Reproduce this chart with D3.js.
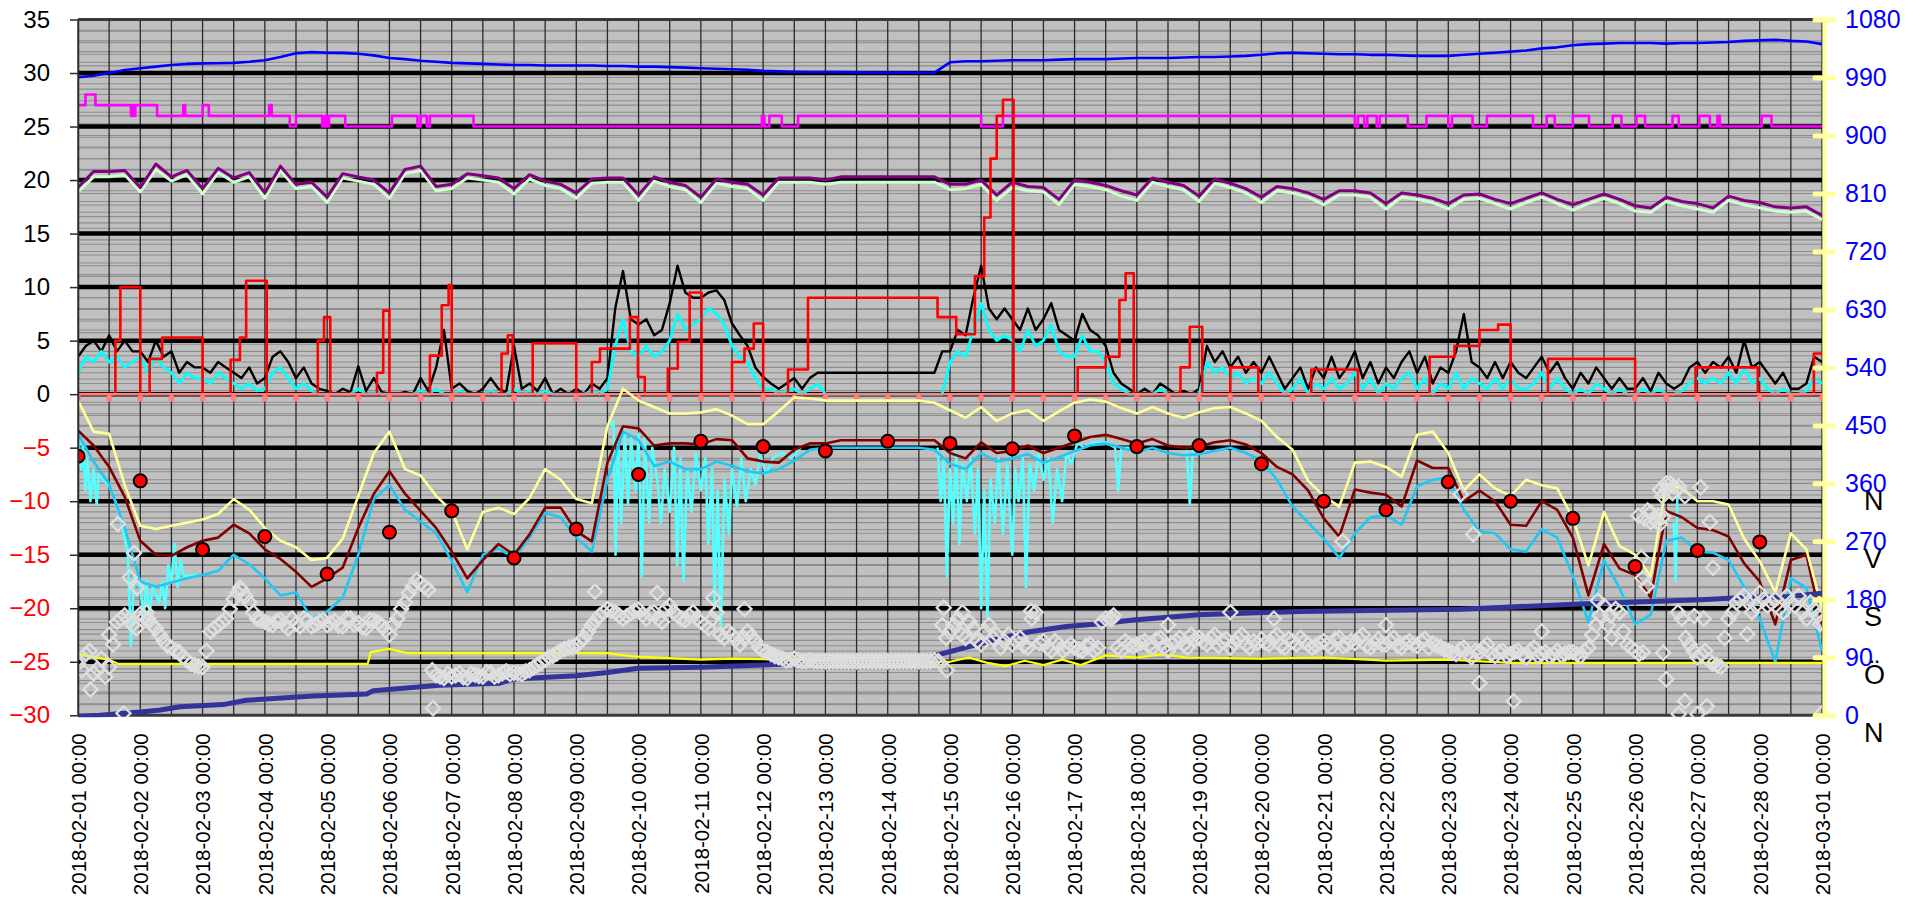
<!DOCTYPE html>
<html>
<head>
<meta charset="utf-8">
<script src="https://cdnjs.cloudflare.com/ajax/libs/d3/7.8.5/d3.min.js"></script>
<style>
  body { margin: 0; background: #fff; }
  svg { display: block; font-family: "Liberation Sans", Arial, sans-serif; }
</style>
</head>
<body>
<div id="chart"></div>
<script>
// ---- data ----
// time is given in days after 2018-02-01 00:00
var startDay = Date.UTC(2018, 1, 1);
var nDays = 28;

// 6-hourly series (00, 06, 12, 18 each day), left axis units
var pressure = [29.6, 29.75, 30.0, 30.28, 30.44, 30.6, 30.75, 30.85, 30.9, 30.92, 30.95, 31.05,
  31.2, 31.5, 31.85, 31.95, 31.9, 31.88, 31.8, 31.65, 31.4, 31.3, 31.15, 31.05,
  30.95, 30.9, 30.85, 30.8, 30.75, 30.75, 30.7, 30.7, 30.7, 30.7, 30.65, 30.65,
  30.6, 30.6, 30.55, 30.5, 30.45, 30.4, 30.35, 30.3, 30.2, 30.15, 30.12, 30.1,
  30.1, 30.08, 30.06, 30.05, 30.05, 30.04, 30.03, 30.03, 31.0, 31.1, 31.1, 31.15,
  31.2, 31.2, 31.2, 31.25, 31.3, 31.3, 31.3, 31.35, 31.4, 31.4, 31.4, 31.45,
  31.5, 31.5, 31.55, 31.6, 31.7, 31.85, 31.9, 31.85, 31.8, 31.75, 31.75, 31.7,
  31.7, 31.65, 31.6, 31.6, 31.6, 31.7, 31.8, 31.9, 32.0, 32.1, 32.3, 32.4,
  32.6, 32.7, 32.75, 32.8, 32.8, 32.8, 32.75, 32.8, 32.8, 32.85, 32.9, 33.0,
  33.05, 33.1, 33.0, 32.95, 32.7];

var purple = [19.3, 20.8, 20.8, 20.9, 19.3, 21.5, 20.3, 20.9, 19.2, 21.1, 20.2, 20.7,
  18.8, 21.3, 19.6, 19.8, 18.4, 20.6, 20.3, 20.0, 18.8, 21.0, 21.3, 19.4,
  19.6, 20.6, 20.4, 20.2, 19.2, 20.5, 19.9, 19.6, 18.8, 20.1, 20.2, 20.2,
  18.6, 20.3, 19.8, 19.5, 18.4, 20.1, 19.8, 19.6, 18.6, 20.2, 20.2, 20.2,
  20.0, 20.3, 20.3, 20.3, 20.3, 20.3, 20.3, 20.3, 19.6, 19.6, 20.0, 18.6,
  19.8, 19.4, 19.3, 18.2, 20.0, 19.8, 19.5, 19.0, 18.6, 20.2, 19.8, 19.5,
  18.5, 20.1, 19.7, 19.2, 18.4, 19.4, 19.2, 18.8, 18.2, 19.0, 19.0, 18.8,
  17.8, 18.8, 18.6, 18.3, 17.8, 18.6, 18.7, 18.2, 17.8, 18.3, 18.8, 18.2,
  17.7, 18.2, 18.7, 18.2, 17.6, 17.4, 18.4, 18.0, 17.8, 17.4, 18.5, 18.1,
  17.9, 17.5, 17.4, 17.5, 16.7];

var paleGreen = [18.9, 20.3, 20.3, 20.5, 18.9, 21.0, 19.9, 20.5, 18.7, 20.7, 19.8, 20.3,
  18.3, 20.9, 19.2, 19.4, 17.9, 20.2, 19.9, 19.6, 18.3, 20.6, 20.9, 19.0,
  19.2, 20.2, 20.0, 19.8, 18.7, 20.1, 19.5, 19.2, 18.3, 19.7, 19.8, 19.8,
  18.1, 19.9, 19.4, 19.1, 17.9, 19.7, 19.4, 19.2, 18.1, 19.8, 19.8, 19.8,
  19.6, 19.8, 19.8, 19.8, 19.8, 19.8, 19.8, 19.8, 19.1, 19.2, 19.6, 18.1,
  19.3, 19.0, 18.9, 17.7, 19.6, 19.4, 19.1, 18.5, 18.1, 19.8, 19.4, 19.1,
  18.0, 19.7, 19.3, 18.8, 17.9, 19.0, 18.8, 18.4, 17.7, 18.6, 18.6, 18.4,
  17.3, 18.4, 18.2, 17.9, 17.3, 18.2, 18.3, 17.8, 17.3, 17.9, 18.4, 17.8,
  17.2, 17.8, 18.3, 17.8, 17.1, 17.0, 18.0, 17.6, 17.3, 17.0, 18.1, 17.7,
  17.4, 17.1, 17.0, 17.1, 16.3];

var tempHigh = [-0.6, -3.5, -3.7, -8.5, -12.3, -12.6, -12.3, -12.0, -11.7, -11.2, -9.8, -10.8,
  -12.5, -13.7, -14.3, -15.5, -15.3, -13.5, -9.5, -5.5, -3.5, -7.0, -7.6, -9.5,
  -10.9, -14.5, -11.0, -10.6, -11.2, -9.7, -7.0, -8.0, -9.8, -10.2, -3.0, 0.5,
  -0.6, -1.2, -1.8, -1.8, -1.7, -1.4, -2.0, -2.8, -2.8, -1.6, -0.3, -0.4,
  -0.6, -0.6, -0.6, -0.6, -0.6, -0.6, -0.6, -0.8, -1.5, -2.2, -1.2, -2.5,
  -1.8, -1.5, -2.5, -1.6, -0.8, -0.5, -0.7, -1.3, -1.8, -1.2, -1.8, -2.2,
  -1.7, -1.3, -1.2, -1.8, -2.5, -4.0, -5.2, -8.1, -9.5, -10.5, -6.4, -6.3,
  -6.8, -7.7, -3.8, -3.5, -5.5, -9.0, -7.5, -8.8, -9.5, -8.0, -8.5, -8.8,
  -11.6, -16.0, -11.0, -14.2, -15.0, -17.0, -8.4, -8.8, -10.0, -10.0, -10.3, -13.5,
  -15.6, -18.5, -13.0, -14.5, -20.0];

var tempMean = [-3.4, -4.8, -6.8, -9.6, -13.7, -15.0, -15.1, -14.3, -13.7, -13.4, -12.2, -13.0,
  -14.5, -15.4, -16.6, -18.0, -17.2, -16.2, -12.5, -9.3, -7.2, -9.3, -10.9, -12.5,
  -14.7, -17.2, -15.5, -14.0, -15.0, -13.1, -10.6, -10.6, -12.8, -13.75, -6.4, -3.0,
  -3.2, -4.8, -4.6, -4.6, -4.7, -4.2, -4.3, -6.0, -6.3, -6.4, -5.2, -4.6,
  -4.6, -4.3, -4.3, -4.3, -4.3, -4.3, -4.3, -4.3, -5.5, -6.0, -4.5, -5.5,
  -5.3, -4.8, -5.5, -5.0, -4.5, -4.0, -3.8, -4.2, -4.6, -4.2, -4.8, -5.0,
  -4.9, -4.5, -4.3, -4.7, -5.5, -6.8, -7.5, -9.0, -11.6, -13.3, -8.9, -9.2,
  -9.4, -10.5, -6.2, -6.9, -6.9, -10.0, -9.0, -10.0, -12.2, -12.3, -10.0, -10.8,
  -13.4, -18.8, -14.0, -16.3, -16.9, -19.0, -10.9, -11.5, -12.5, -12.7, -13.3, -15.8,
  -17.5, -21.5, -15.5, -15.0, -21.5];

var tempLow = [-3.7, -6.3, -8.4, -12.5, -17.5, -18.0, -17.6, -17.2, -16.9, -16.5, -15.0, -15.9,
  -17.2, -18.8, -18.5, -21.0, -20.3, -19.0, -15.0, -9.8, -8.5, -10.8, -11.9, -13.0,
  -15.6, -18.5, -15.0, -14.4, -15.3, -13.4, -11.1, -11.5, -13.4, -14.7, -8.0, -3.5,
  -4.3, -6.7, -6.3, -7.0, -7.0, -6.3, -6.7, -7.2, -7.4, -7.0, -6.2, -5.2,
  -5.0, -5.0, -5.0, -5.0, -5.0, -5.0, -5.0, -5.2, -6.5, -7.0, -5.5, -6.3,
  -6.0, -5.6, -6.4, -5.9, -5.3, -4.8, -4.6, -5.0, -5.4, -5.0, -5.5, -5.7,
  -5.6, -5.3, -5.0, -5.5, -6.2, -8.0, -10.5, -12.0, -13.5, -15.3, -13.0, -11.5,
  -11.3, -12.2, -8.6, -8.0, -7.8, -10.8, -12.8, -13.0, -14.5, -14.7, -12.6, -13.4,
  -17.0, -21.3, -15.5, -18.1, -21.5, -20.6, -13.7, -13.4, -14.7, -14.8, -15.5, -18.0,
  -21.0, -25.0, -17.2, -18.1, -24.0];

// 3-hourly series (8 per day)
var gust = [3.5, 4.5, 5, 4, 5.5, 4, 5, 4,  4, 3, 5, 3.5, 4, 2, 3, 2.5,
  2.5, 2, 3, 2.5, 2, 1.5, 2.5, 1,  1.5, 3.5, 4, 3, 1.5, 2.5, 1, 0.5,
  0.3, 0, 0.5, 0.2, 2.6, 0.3, 1.5, 0.2,  0, 0, 0.2, 0, 1.5, 0.3, 2.5, 6,
  0.5, 1, 0.3, 0, 0.5, 1.5, 0.5, 0.2,  4.5, 0.5, 1, 0.3, 1.5, 0, 0.5, 0,
  0.5, 0, 1, 0.5, 1.5, 8, 11.5, 7,  6.5, 7, 5.5, 6, 8.5, 12, 9.5, 9,
  9, 9.5, 9.7, 8.8, 6.6, 5.5, 4.5, 2.5,  1.6, 1, 0.5, 1, 1.5, 0.5, 1.5, 2,
  2, 2, 2, 2, 2, 2, 2, 2,  2, 2, 2, 2, 2, 2, 2, 4,
  4, 6, 5.5, 9, 12, 8, 7, 8,  7, 6, 8, 6, 7, 8.5, 6, 5.5,
  5, 7.5, 6, 5.5, 4.5, 2, 1, 0.5,  0, 0.5, 0, 1, 0.5, 0, 0.3, 0,
  0.5, 4.5, 3, 4, 2.5, 3.5, 2, 3,  2, 3.5, 2, 0.5, 1.5, 2.5, 0.5, 2.5,
  1.5, 3.5, 1.5, 2.5, 4, 1.5, 3, 1,  2.5, 1.5, 3, 4, 2, 3.5, 1, 2.5,
  2, 4, 7.5, 3, 2.5, 1.5, 3, 1.5,  3, 2, 1.5, 2.5, 3.5, 2, 3, 1.5,
  0.5, 2, 1, 2.5, 1.5, 0.5, 1.5, 0.5,  0.5, 1.5, 0.3, 2, 1, 0.5, 1, 2.5,
  3, 2, 3, 2.5, 3.5, 2, 5, 2.5,  3, 2, 1, 2, 0.5, 0.5, 1, 3.5,
  3];

var wind = [2, 3.5, 3, 4, 3, 3.5, 2.5, 3,  3.5, 2, 3.5, 2.5, 2, 1, 2, 1.5,
  1.5, 1, 2, 1.5, 1, 0.5, 1, 0.3,  0.5, 2, 2.5, 1.5, 0.5, 1, 0.3, 0,
  0, 0, 0, 0, 0.5, 0, 0.2, 0,  0, 0, 0, 0, 0.3, 0, 0.5, 0,
  0, 0.3, 0, 0, 0, 0.3, 0, 0,  0.5, 0, 0.3, 0, 0.3, 0, 0, 0,
  0, 0, 0.3, 0, 0.5, 4.5, 7, 4,  3.5, 4.5, 3.5, 4, 5, 7.5, 6, 6.5,
  7, 8, 7.5, 6.5, 4.5, 3.5, 3, 1.5,  0.5, 0.5, 0, 0.3, 0.5, 0, 0.5, 1,
  0, 0, 0, 0, 0, 0, 0, 0,  0, 0, 0, 0, 0, 0, 0, 0,
  3, 4, 3.5, 6, 8.5, 6, 5, 5.5,  5, 4, 6, 4.5, 5, 6.5, 4, 3.5,
  3.5, 5.5, 4, 4, 3, 1, 0.5, 0,  0, 0, 0, 0.5, 0, 0, 0, 0,
  0, 3, 2, 2.5, 1.5, 2, 1, 1.5,  1, 2, 1, 0, 0.5, 1.5, 0, 1,
  0.5, 1.5, 0.5, 1, 2, 0.5, 1.5, 0,  1, 0.5, 1.5, 2, 0.5, 1.5, 0, 1,
  0.5, 2, 0.5, 1.5, 1, 0.5, 1.5, 0.5,  1.5, 0.5, 0.5, 1, 2, 0.5, 1.5, 0.5,
  0, 0.5, 0, 1, 0.5, 0, 0.5, 0,  0, 0.5, 0, 0.5, 0, 0, 0.3, 1,
  1.5, 1, 1.5, 1, 2, 1, 2.5, 1,  1.5, 0.5, 0, 0.5, 0, 0, 0.3, 1.5,
  1];

// wind direction, degrees on the right axis, 3-hourly at the full hour
var windDir = [80, 95, 65, 88, 75, 145, 155, 140,  157, 150, 135, 115, 105, 98, 85, 78,
  75, 130, 140, 150, 180, 195, 175, 150,  145, 140, 148, 135, 142, 150, 138, 145,
  140, 146, 138, 150, 143, 135, 147, 140,  125, 150, 175, 200, 205, 195, 62, 58,
  60, 65, 58, 63, 60, 66, 62, 68,  66, 64, 70, 78, 86, 92, 100, 105,
  108, 120, 140, 155, 165, 160, 150, 158,  164, 150, 160, 145, 170, 155, 148, 160,
  145, 135, 160, 120, 125, 110, 130, 115,  100, 95, 90, 85, 88, 84, 85, 84,
  84, 84, 84, 84, 84, 84, 84, 84,  84, 84, 84, 84, 84, 84, 85, 140,
  130, 150, 120, 135, 110, 140, 125, 115,  110, 120, 105, 160, 115, 100, 110, 105,
  105, 100, 110, 105, 150, 155, 100, 110,  110, 115, 105, 120, 100, 115, 110, 125,
  120, 110, 125, 115, 105, 120, 110, 115,  118, 110, 125, 105, 115, 120, 110, 108,
  115, 105, 120, 110, 112, 125, 105, 118,  110, 120, 105, 115, 108, 118, 112, 106,
  100, 95, 105, 90, 98, 110, 92, 100,  95, 100, 90, 105, 95, 92, 100, 96,
  98, 92, 105, 140, 170, 120, 160, 110,  100, 98, 300, 310, 350, 355, 150, 110,
  90, 100, 80, 75, 150, 175, 185, 160,  190, 170, 180, 160, 175, 185, 150, 165,
  145];

// wind direction half way between those readings (01:30, 04:30, ...)
var windDirHalf = [70, 100, 72, 60, 110, 150, 148, 135,  152, 140, 125, 108, 100, 90, 80, 76,
  100, 135, 145, 165, 190, 185, 160, 148,  142, 146, 140, 150, 138, 147, 141, 148,
  143, 139, 150, 141, 137, 148, 144, 132,  140, 165, 190, 210, 200, 70, 60, 64,
  62, 59, 64, 61, 67, 60, 65, 64,  65, 68, 74, 82, 90, 96, 103, 106,
  115, 130, 148, 160, 162, 155, 154, 162,  156, 158, 150, 165, 160, 150, 155, 150,
  140, 150, 125, 130, 118, 120, 122, 105,  98, 92, 88, 86, 85, 84, 84, 84,
  84, 84, 84, 84, 84, 84, 84, 84,  84, 84, 84, 84, 84, 84, 84, 120,
  140, 125, 145, 115, 130, 120, 105, 125,  115, 108, 150, 112, 105, 115, 100, 110,
  102, 108, 100, 145, 150, 105, 115, 108,  112, 108, 118, 105, 112, 120, 105, 118,
  115, 120, 108, 118, 112, 125, 105, 112,  112, 120, 108, 118, 110, 115, 105, 112,
  110, 118, 108, 115, 120, 108, 112, 110,  115, 108, 112, 110, 115, 105, 108, 102,
  97, 102, 95, 100, 105, 95, 98, 92,  98, 94, 100, 92, 98, 95, 93, 98,
  95, 100, 125, 155, 140, 165, 130, 105,  95, 200, 305, 340, 360, 160, 120, 100,
  95, 85, 78, 120, 160, 180, 175, 170,  180, 175, 165, 185, 170, 160, 175, 155];

// single wind direction readings outside the main band [day, degrees]
var windDirExtra = [[0.2, 40], [0.5, 125], [0.64, 297], [0.73, 3], [0.83, 214], [0.9, 252], [0.95, 198],
  [1.1, 160], [2.6, 198], [5.7, 11], [8.3, 192], [9.3, 190], [10.2, 182], [10.7, 165],
  [13.9, 167], [13.95, 70], [14.2, 160], [15.3, 162], [16.6, 150], [17.5, 140], [18.5, 160],
  [19.2, 150], [20.3, 270], [21.0, 140], [22.2, 343], [22.4, 281], [22.5, 50], [23.05, 22],
  [23.5, 130], [24.4, 178], [24.6, 155], [25.05, 310], [25.1, 245], [25.12, 213], [25.15, 305],
  [25.2, 318], [25.25, 315], [25.35, 300], [25.4, 297], [25.45, 308], [25.4, 350], [25.5, 360],
  [25.45, 97], [25.5, 56], [25.6, 345], [25.7, 355], [25.7, 2], [25.8, 340], [25.8, 22],
  [25.95, 154], [26.0, 2], [26.05, 354], [26.1, 150], [26.15, 14], [26.2, 300], [26.25, 229],
  [26.8, 126], [27.97, 142], [28.0, 3]];

// step series [day, value]
var cloudSteps = [[0, 27], [0.12, 28], [0.28, 27], [0.85, 26], [0.88, 27], [0.9, 26], [0.92, 27],
  [1.27, 26], [1.69, 27], [1.72, 26], [2.0, 27], [2.1, 26], [3.07, 27], [3.11, 26], [3.4, 25],
  [3.5, 26], [3.92, 25], [3.96, 26], [3.99, 25], [4.03, 26], [4.29, 25], [5.04, 26], [5.45, 25],
  [5.5, 26], [5.6, 25], [5.65, 26], [6.35, 25], [10.98, 26], [11.02, 25], [11.1, 26], [11.3, 25],
  [11.56, 26], [14.5, 25], [14.85, 26], [20.5, 25], [20.55, 26], [20.65, 25], [20.7, 26],
  [20.85, 25], [20.9, 26], [21.35, 25], [21.65, 26], [22.0, 25], [22.06, 26], [22.39, 25],
  [22.62, 26], [23.36, 25], [23.58, 26], [23.71, 25], [24.0, 26], [24.26, 25], [24.64, 26],
  [24.78, 25], [25.02, 26], [25.16, 25], [25.6, 26], [25.7, 25], [26.03, 26], [26.2, 25],
  [26.32, 26], [26.36, 25], [27.03, 26], [27.19, 25], [28, 25]];

var precipSteps = [[0, 0], [0.6, 5], [0.68, 10], [1.0, 0], [1.15, 3.3], [1.35, 5.3], [2.0, 0],
  [2.45, 3.2], [2.6, 5.3], [2.7, 10.6], [3.03, 0], [3.85, 5], [3.95, 7.2], [4.05, 0], [4.8, 2],
  [4.9, 7.8], [5.0, 0], [5.65, 3.6], [5.84, 8.3], [5.95, 10.2], [6.0, 0], [6.8, 3.8], [6.9, 5.5],
  [6.98, 0], [7.3, 4.75], [8.0, 0], [8.25, 3.0], [8.38, 4.25], [8.86, 7.2], [8.99, 1.6], [9.1, 0],
  [9.47, 2.4], [9.63, 4.9], [9.82, 9.5], [10.01, 0], [10.5, 3.0], [10.7, 4.25], [10.85, 6.6],
  [11.0, 0], [11.4, 2.3], [11.72, 9.0], [13.8, 7.2], [14.1, 5.6], [14.4, 11], [14.55, 16.5],
  [14.65, 22], [14.75, 26], [14.85, 27.5], [15.02, 0], [16.05, 2.5], [16.5, 3.5], [16.72, 8.8],
  [16.82, 11.3], [16.95, 0], [17.7, 2.5], [17.85, 6.3], [18.05, 0], [18.5, 2.5], [18.95, 0],
  [19.8, 2.3], [20.55, 0], [21.7, 3.5], [22.1, 4.5], [22.5, 6.0], [22.8, 6.5], [23.0, 0],
  [23.6, 3.3], [25.0, 0], [25.97, 2.5], [26.97, 0], [27.87, 3.8], [28, 3.8]];

// noisy ground temperature, only where it shows [day, value], null = gap
var groundTemp = [[0, -3.5], [0.05, -7], [0.08, -4.5], [0.12, -9], [0.15, -6], [0.2, -10], [0.25, -7],
  [0.3, -10.3], [0.33, -7.5], [0.4, -8], [0.5, -8.5], [0.6, -10], [0.7, -12], [0.8, -15],
  [0.85, -23.5], [0.9, -17], [1.0, -18], [1.05, -21], [1.1, -17.5], [1.15, -20.5], [1.2, -18],
  [1.3, -19.5], [1.35, -17.5], [1.4, -20], [1.45, -16], [1.5, -17.5], [1.55, -14], [1.6, -18],
  [1.65, -15.5], [1.7, -17], [1.8, -17], [1.9, -16.8], [1.95, null],
  [8.55, -3], [8.6, -2.5], [8.63, -15], [8.67, -4], [8.72, -12], [8.78, -3.5], [8.83, -10.3],
  [8.88, -4], [8.95, -9], [9.0, -3.7], [9.05, -17], [9.1, -4], [9.17, -12], [9.22, -5], [9.3, -8],
  [9.36, -12], [9.42, -7], [9.5, -11], [9.57, -5], [9.62, -16], [9.67, -6], [9.72, -17.5],
  [9.78, -7], [9.85, -11], [9.92, -5.5], [10.0, -9], [10.07, -6], [10.12, -14], [10.18, -7],
  [10.22, -20], [10.27, -9], [10.32, -22], [10.38, -8], [10.45, -13], [10.5, -7], [10.58, -10.5],
  [10.65, -6], [10.72, -10], [10.8, -7], [10.88, -8.5], [10.95, -5.6], [11.05, -7.5], [11.15, -6],
  [11.3, -5.5], [11.45, -6], [11.6, -5], [11.65, null],
  [13.8, -5], [13.85, -10], [13.9, -6], [13.95, -17], [14.0, -7], [14.05, -12], [14.1, -5.5],
  [14.15, -14], [14.2, -6.5], [14.27, -10], [14.33, -6], [14.4, -13], [14.45, -7], [14.5, -20],
  [14.55, -9], [14.6, -21], [14.65, -8], [14.72, -12], [14.78, -6], [14.85, -13], [14.92, -6.5],
  [15.0, -15], [15.05, -7], [15.1, -10], [15.17, -6], [15.22, -18], [15.28, -6.5], [15.35, -9],
  [15.42, -5.5], [15.5, -8], [15.58, -6], [15.65, -12], [15.72, -7], [15.8, -10], [15.87, -5.5],
  [15.95, -6.5], [16.05, -4.5], [16.15, -5], [16.3, -4.5], [16.5, -4.5], [16.65, -5], [16.7, -9],
  [16.75, -5], [16.9, -5], [17.0, -5.4], [17.05, null],
  [17.8, -5.2], [17.85, -10.3], [17.9, -5.2], [17.95, null],
  [25.62, -12], [25.65, -17.5], [25.68, -9]];

// bottom lines [day, value]
var snowLine = [[0, -24.3], [0.5, -24.8], [0.65, -25.2], [4.65, -25.2], [4.7, -24.1], [5.0, -23.8],
  [5.15, -24.0], [5.3, -24.2], [8.5, -24.2], [8.9, -24.5], [10.0, -24.8], [10.5, -24.7],
  [11.5, -24.8], [14.0, -25.0], [14.3, -24.6], [14.6, -25.1], [14.9, -25.4], [15.2, -24.9],
  [15.5, -25.3], [15.8, -24.8], [16.1, -25.3], [16.5, -24.4], [17.0, -24.6], [17.4, -24.3],
  [17.8, -24.6], [19.0, -24.7], [20.0, -24.6], [21.0, -24.9], [22.0, -24.8], [23.0, -25.1],
  [28.0, -25.1]];

var sumLine = [[0, -30.1], [0.35, -30.0], [1.0, -29.7], [1.32, -29.5], [1.64, -29.2], [2.33, -29.0],
  [2.7, -28.6], [3.78, -28.2], [4.64, -28.0], [4.74, -27.7], [5.8, -27.2], [6.77, -27.0],
  [7.0, -26.6], [8.0, -26.3], [8.5, -26.0], [9.0, -25.6], [10.0, -25.5], [11.5, -25.2],
  [13.5, -24.8], [13.84, -24.3], [14.43, -23.4], [14.8, -22.8], [15.28, -22.2], [15.87, -21.7],
  [16.5, -21.4], [16.94, -21.1], [18.0, -20.6], [19.6, -20.3], [22.2, -20.1], [24.1, -19.6],
  [26.06, -19.2], [26.73, -19.0], [27.48, -18.9], [28.0, -18.6]];

// one red dot per day at 00:00
var dailyDots = [-5.8, -8.1, -14.5, -13.3, -16.8, -12.9, -10.9, -15.3, -12.6, -7.5, -4.4, -4.9,
  -5.3, -4.4, -4.6, -5.1, -3.9, -4.9, -4.8, -6.5, -10.0, -10.8, -8.2, -10.0, -11.6, -16.1,
  -14.6, -13.8];

var leftTicks = d3.range(-30, 36, 5);
var rightTicks = d3.range(0, 1081, 90);
var compassDeg = [360, 270, 180, 90, 0];
var compassTxt = ["N", "V", "S", "Ö", "N"];

// ---- helpers ----
function when(d) { return new Date(startDay + d * 864e5); }
function every(arr, step, offset) {
  offset = offset || 0;
  return arr.map(function(v, i) { return {t: when(offset + i * step), v: v}; });
}
function pairs(arr) {
  return arr.map(function(p) { return {t: when(p[0]), v: p[1]}; });
}

// ---- layout ----
var W = 1930, H = 901;
var plotL = 78, plotR = 1822, plotT = 19.5, plotB = 715.3;

var x = d3.scaleUtc().domain([when(0), when(nDays)]).range([plotL, plotR]);
var yL = d3.scaleLinear().domain([-30, 35]).range([plotB, plotT]);
var yR = d3.scaleLinear().domain([0, 1080]).range([plotB, plotT]);

var svg = d3.select("#chart").append("svg")
  .attr("width", W)
  .attr("height", H);

svg.append("rect").attr("width", W).attr("height", H).attr("fill", "#fff");

svg.append("clipPath").attr("id", "plot")
  .append("rect")
  .attr("x", plotL).attr("y", plotT - 2)
  .attr("width", plotR - plotL).attr("height", plotB - plotT + 4);

// plot background
svg.append("rect")
  .attr("x", plotL).attr("y", plotT)
  .attr("width", plotR - plotL).attr("height", plotB - plotT)
  .attr("fill", "#c0c0c0");

var grid = svg.append("g");

// minor gridlines of both axes
grid.selectAll(".minR")
  .data(d3.range(0, 1081, 18))
.enter().append("line")
  .attr("x1", plotL).attr("x2", plotR)
  .attr("y1", function(d) { return yR(d); })
  .attr("y2", function(d) { return yR(d); })
  .attr("stroke", "#8e8e8e").attr("stroke-width", 1.1);

grid.selectAll(".minL")
  .data(d3.range(-30, 36, 1))
.enter().append("line")
  .attr("x1", plotL).attr("x2", plotR)
  .attr("y1", function(d) { return yL(d); })
  .attr("y2", function(d) { return yL(d); })
  .attr("stroke", "#8e8e8e").attr("stroke-width", 1.1);

// vertical lines every 12 hours
grid.selectAll(".vert")
  .data(d3.range(0, nDays + 0.01, 0.5))
.enter().append("line")
  .attr("x1", function(d) { return x(when(d)); })
  .attr("x2", function(d) { return x(when(d)); })
  .attr("y1", plotT).attr("y2", plotB)
  .attr("stroke", "#2a2a2a").attr("stroke-width", 1.3);

// major lines of the left axis
grid.selectAll(".major")
  .data(d3.range(-25, 31, 5))
.enter().append("line")
  .attr("x1", plotL).attr("x2", plotR)
  .attr("y1", function(d) { return yL(d); })
  .attr("y2", function(d) { return yL(d); })
  .attr("stroke", "#000").attr("stroke-width", 4.5);

grid.selectAll(".edge")
  .data([35, -30])
.enter().append("line")
  .attr("x1", plotL).attr("x2", plotR)
  .attr("y1", function(d) { return yL(d); })
  .attr("y2", function(d) { return yL(d); })
  .attr("stroke", "#3a3a3a").attr("stroke-width", 3);

// ---- series ----
var plot = svg.append("g").attr("clip-path", "url(#plot)");

var lineL = d3.line()
  .defined(function(d) { return d.v != null; })
  .x(function(d) { return x(d.t); })
  .y(function(d) { return yL(d.v); });

var stepL = d3.line()
  .curve(d3.curveStepAfter)
  .x(function(d) { return x(d.t); })
  .y(function(d) { return yL(d.v); });

function draw(data, gen, color, width) {
  plot.append("path")
    .datum(data)
    .attr("d", gen)
    .attr("fill", "none")
    .attr("stroke", color)
    .attr("stroke-width", width)
    .attr("stroke-linejoin", "round");
}

// upper group
draw(every(pressure, 0.25), lineL, "#0000ff", 2.6);
draw(pairs(cloudSteps), stepL, "#ff00ff", 2.6);
draw(every(paleGreen, 0.25), lineL, "#ccffcc", 3);
draw(every(purple, 0.25), lineL, "#800080", 3);

// wind
draw(every(gust, 0.125), lineL, "#000000", 2.4);
draw(every(wind, 0.125), lineL, "#00ffff", 2.8);
draw(pairs(precipSteps), stepL, "#ff0000", 2.6);

// zero reference with small markers
var zeroPts = d3.range(0, nDays + 0.01, 0.5).map(function(d) { return {t: when(d), v: 0}; });
draw(zeroPts, lineL, "#ff8080", 2.5);
plot.selectAll(".zmark")
  .data(zeroPts)
.enter().append("ellipse")
  .attr("cx", function(d) { return x(d.t); })
  .attr("cy", function(d) { return yL(d.v) + 4; })
  .attr("rx", 3).attr("ry", 3.5)
  .attr("fill", "#ff8080");

// temperatures
draw(pairs(groundTemp), lineL, "#55ffff", 2.6);
draw(every(tempLow, 0.25), lineL, "#1ec8f5", 2.6);
draw(every(tempMean, 0.25), lineL, "#800000", 2.6);
draw(every(tempHigh, 0.25), lineL, "#ffff99", 2.6);

// bottom group
draw(pairs(snowLine), lineL, "#ffff00", 2.2);
draw(pairs(sumLine), lineL, "#333399", 5);

var dirPts = every(windDir, 0.125)
  .concat(every(windDirHalf, 0.125, 0.0625))
  .concat(pairs(windDirExtra));
plot.selectAll(".dir")
  .data(dirPts)
.enter().append("path")
  .attr("d", d3.symbol().type(d3.symbolSquare).size(100))
  .attr("transform", function(d) {
    return "translate(" + x(d.t) + "," + yR(d.v) + ") rotate(45)";
  })
  .attr("fill", "none")
  .attr("stroke", "#dedede")
  .attr("stroke-width", 2.3);

plot.selectAll(".dot")
  .data(every(dailyDots, 1))
.enter().append("circle")
  .attr("cx", function(d) { return x(d.t); })
  .attr("cy", function(d) { return yL(d.v); })
  .attr("r", 6.5)
  .attr("fill", "#ff0000")
  .attr("stroke", "#000")
  .attr("stroke-width", 2);

// ---- axes ----
var axL = svg.append("g")
  .attr("transform", "translate(" + plotL + ",0)")
  .call(d3.axisLeft(yL).tickValues(leftTicks).tickSize(8).tickSizeOuter(0).tickPadding(20));
axL.select(".domain").attr("stroke", "#2a2a2a").attr("stroke-width", 1.5);
axL.selectAll(".tick line").attr("stroke", "#2a2a2a").attr("stroke-width", 1.5);
axL.selectAll(".tick text")
  .attr("font-size", "24px")
  .attr("font-family", "Liberation Sans, Arial, sans-serif")
  .attr("fill", function(d) { return d < 0 ? "#ff0000" : "#000"; });

var axR = svg.append("g")
  .attr("transform", "translate(1824,0)")
  .call(d3.axisRight(yR).tickValues(rightTicks).tickFormat(d3.format("d"))
    .tickSize(9).tickSizeOuter(0).tickPadding(12));
axR.select(".domain").attr("stroke", "#ffff99").attr("stroke-width", 4);
axR.selectAll(".tick line")
  .attr("x1", -9)
  .attr("stroke", "#ffff99").attr("stroke-width", 5).attr("stroke-linecap", "round");
axR.selectAll(".tick text")
  .attr("font-size", "25px")
  .attr("font-family", "Liberation Sans, Arial, sans-serif")
  .attr("fill", "#0000ff");

var axB = svg.append("g")
  .attr("transform", "translate(0," + plotB + ")")
  .call(d3.axisBottom(x).ticks(d3.utcDay.every(1)).tickFormat(d3.utcFormat("%Y-%m-%d %H:%M")).tickSize(0));
axB.select(".domain").remove();
axB.selectAll(".tick text")
  .attr("transform", "translate(0,18) rotate(-90)")
  .attr("x", 0).attr("y", 0).attr("dy", "0.36em")
  .attr("text-anchor", "end")
  .attr("font-size", "20.5px")
  .attr("font-family", "Liberation Sans, Arial, sans-serif")
  .attr("fill", "#000");

// compass letters next to the right axis (they sit over the labels, as in the original)
svg.selectAll(".compass")
  .data(compassDeg)
.enter().append("text")
  .attr("x", 1864)
  .attr("y", function(d) { return yR(d) + 27; })
  .attr("font-size", "27px")
  .attr("fill", "#000")
  .text(function(d, i) { return compassTxt[i]; });
</script>
</body>
</html>
